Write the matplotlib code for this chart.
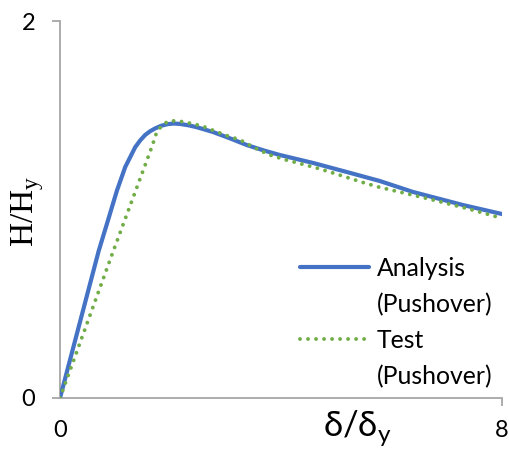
import matplotlib
matplotlib.use("Agg")
import matplotlib.pyplot as plt
from matplotlib.lines import Line2D

# Normalised drift ratio (delta / delta_y) and normalised lateral load (H / H_y)
analysis_x = [0, 0.35, 0.7, 0.87, 1.03, 1.18, 1.36, 1.45, 1.54, 1.63, 1.72, 1.83, 1.95,
              2.06, 2.17, 2.32, 2.47, 2.77, 3.08, 3.38, 3.68, 3.98, 4.58, 5.19, 5.79,
              6.39, 7.29, 8.0]
analysis_y = [0, 0.39, 0.78, 0.944, 1.10, 1.225, 1.33, 1.366, 1.395, 1.415, 1.43, 1.444,
              1.453, 1.456, 1.454, 1.447, 1.437, 1.411, 1.377, 1.342, 1.314, 1.289, 1.247,
              1.199, 1.151, 1.093, 1.024, 0.976]

test_x = [0, 0.94, 1.66, 1.75, 1.85, 1.97, 2.12, 2.26, 2.57, 2.99, 3.26, 3.53,
          3.80, 4.09, 4.38, 4.65, 4.94, 5.23, 5.52, 5.77, 6.68, 7.4, 7.98]
test_y = [0, 0.76, 1.33, 1.41, 1.448, 1.47, 1.47, 1.464, 1.443, 1.395, 1.369, 1.326,
          1.289, 1.263, 1.241, 1.22, 1.194, 1.167, 1.14, 1.119, 1.056, 1.003, 0.955]

series_names = ["Analysis", "Test"]
series_note = "(Pushover)"
x_ticks = [0, 8]
y_ticks = [0, 2]

SANS = ["Lato", "DejaVu Sans"]
SERIF = ["Liberation Serif", "DejaVu Serif"]
AXIS_GREY = "#A6A6A6"
BLUE = "#4472C4"
GREEN = "#70AD47"

fig = plt.figure(figsize=(5.09, 4.55), dpi=100)
ax = fig.add_axes([60 / 509, 1 - 398 / 455, 442 / 509, 377 / 455])

blue_line, = ax.plot(analysis_x, analysis_y, color=BLUE, lw=3.0,
                     solid_capstyle="round", solid_joinstyle="round", zorder=3)
green_line, = ax.plot(test_x, test_y, color=GREEN, lw=2.8,
                      linestyle=(0, (0.01, 2.05)), dash_capstyle="round", zorder=4)

ax.set_xlim(0, 8)
ax.set_ylim(0, 2)
ax.set_xticks(x_ticks)
ax.set_yticks(y_ticks)
ax.set_xticklabels([str(v) for v in x_ticks], fontfamily=SANS, fontsize=17)
ax.set_yticklabels([str(v) for v in y_ticks], fontfamily=SANS, fontsize=17)

for side in ("top", "right"):
    ax.spines[side].set_visible(False)
for side in ("left", "bottom"):
    ax.spines[side].set_color(AXIS_GREY)
    ax.spines[side].set_linewidth(1.3)

ax.tick_params(axis="both", direction="out", length=5.8, width=1.3,
               color=AXIS_GREY, labelcolor="black")
ax.tick_params(axis="y", pad=12)
ax.tick_params(axis="x", pad=10)
ax.xaxis.get_major_ticks()[0].tick1line.set_visible(False)

# Axis titles
fig.text(28 / 509, 1 - 211 / 455, "H/H$_\\mathregular{y}$", rotation=90,
         ha="center", va="center", fontfamily=SERIF, fontsize=24)
fig.text(357 / 509, 1 - 428 / 455, "δ/δ$_\\mathregular{y}$",
         ha="center", va="center", fontfamily=SANS, fontsize=25)

# Legend: each series name with its note on the following row
blank = Line2D([], [], linestyle="none")
handles = [blue_line, blank, green_line, blank]
labels = [series_names[0], series_note, series_names[1], series_note]
leg = ax.legend(handles, labels, loc="upper left",
                bbox_to_anchor=((300 - 60) / 442, (398 - 257) / 377),
                frameon=False, prop={"family": SANS, "size": 17.8},
                handlelength=2.8, handletextpad=0.3, labelspacing=0.52,
                borderpad=0, borderaxespad=0)

fig.savefig("out.png", dpi=100)
